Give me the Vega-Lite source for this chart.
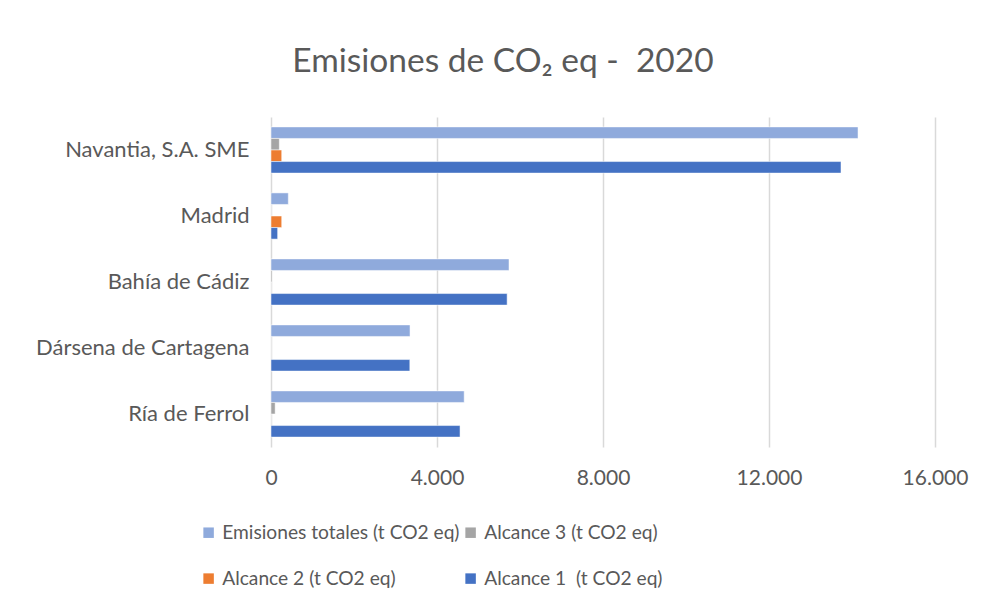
{
  "$schema": "https://vega.github.io/schema/vega-lite/v6.json",
  "width": 664,
  "height": 330,
  "autosize": "none",
  "padding": {"left": 271, "top": 117, "right": 52, "bottom": 163},
  "background": "white",
  "title": {
    "text": "Emisiones de CO₂ eq -\u00a0 2020",
    "anchor": "middle",
    "dx": -100,
    "offset": 38,
    "font": "Lato",
    "fontSize": 33.5,
    "fontWeight": "normal",
    "color": "#595959"
  },
  "data": {
    "values": [
      {"sede": "Navantia, S.A. SME", "serie": "Emisiones totales (t CO2 eq)", "valor": 14145},
      {"sede": "Navantia, S.A. SME", "serie": "Alcance 3 (t CO2 eq)", "valor": 200},
      {"sede": "Navantia, S.A. SME", "serie": "Alcance 2 (t CO2 eq)", "valor": 258},
      {"sede": "Navantia, S.A. SME", "serie": "Alcance 1\u00a0 (t CO2 eq)", "valor": 13735},
      {"sede": "Madrid", "serie": "Emisiones totales (t CO2 eq)", "valor": 417},
      {"sede": "Madrid", "serie": "Alcance 3 (t CO2 eq)", "valor": 0},
      {"sede": "Madrid", "serie": "Alcance 2 (t CO2 eq)", "valor": 258},
      {"sede": "Madrid", "serie": "Alcance 1\u00a0 (t CO2 eq)", "valor": 160},
      {"sede": "Bahía de Cádiz", "serie": "Emisiones totales (t CO2 eq)", "valor": 5735},
      {"sede": "Bahía de Cádiz", "serie": "Alcance 3 (t CO2 eq)", "valor": 25},
      {"sede": "Bahía de Cádiz", "serie": "Alcance 2 (t CO2 eq)", "valor": 0},
      {"sede": "Bahía de Cádiz", "serie": "Alcance 1\u00a0 (t CO2 eq)", "valor": 5690},
      {"sede": "Dársena de Cartagena", "serie": "Emisiones totales (t CO2 eq)", "valor": 3350},
      {"sede": "Dársena de Cartagena", "serie": "Alcance 3 (t CO2 eq)", "valor": 0},
      {"sede": "Dársena de Cartagena", "serie": "Alcance 2 (t CO2 eq)", "valor": 0},
      {"sede": "Dársena de Cartagena", "serie": "Alcance 1\u00a0 (t CO2 eq)", "valor": 3345},
      {"sede": "Ría de Ferrol", "serie": "Emisiones totales (t CO2 eq)", "valor": 4655},
      {"sede": "Ría de Ferrol", "serie": "Alcance 3 (t CO2 eq)", "valor": 100},
      {"sede": "Ría de Ferrol", "serie": "Alcance 2 (t CO2 eq)", "valor": 0},
      {"sede": "Ría de Ferrol", "serie": "Alcance 1\u00a0 (t CO2 eq)", "valor": 4555}
    ]
  },
  "mark": {"type": "bar", "stroke": "white", "strokeWidth": 0.5},
  "encoding": {
    "y": {
      "field": "sede",
      "type": "nominal",
      "sort": ["Navantia, S.A. SME", "Madrid", "Bahía de Cádiz", "Dársena de Cartagena", "Ría de Ferrol"],
      "scale": {"paddingInner": 0.3, "paddingOuter": 0.15},
      "axis": {
        "title": null,
        "ticks": false,
        "domain": false,
        "grid": false,
        "labelPadding": 22,
        "labelLimit": 300,
        "labelFont": "Lato",
        "labelFontSize": 22,
        "labelColor": "#595959"
      }
    },
    "yOffset": {
      "field": "serie",
      "type": "nominal",
      "sort": ["Emisiones totales (t CO2 eq)", "Alcance 3 (t CO2 eq)", "Alcance 2 (t CO2 eq)", "Alcance 1\u00a0 (t CO2 eq)"],
      "scale": {"paddingInner": 0, "paddingOuter": 0}
    },
    "x": {
      "field": "valor",
      "type": "quantitative",
      "scale": {"domain": [0, 16000], "nice": false},
      "axis": {
        "title": null,
        "values": [0, 4000, 8000, 12000, 16000],
        "labelExpr": "replace(format(datum.value, ','), ',', '.')",
        "labelFlush": false,
        "ticks": false,
        "domain": false,
        "grid": true,
        "gridColor": "#D9D9D9",
        "gridWidth": 1.5,
        "labelPadding": 20,
        "labelFont": "Lato",
        "labelFontSize": 21,
        "labelColor": "#595959"
      }
    },
    "color": {
      "field": "serie",
      "type": "nominal",
      "scale": {
        "domain": ["Emisiones totales (t CO2 eq)", "Alcance 2 (t CO2 eq)", "Alcance 3 (t CO2 eq)", "Alcance 1\u00a0 (t CO2 eq)"],
        "range": ["#8FAADC", "#ED7D31", "#A5A5A5", "#4472C4"]
      },
      "legend": {
        "title": null,
        "orient": "none",
        "legendX": -72,
        "legendY": 406,
        "columns": 2,
        "symbolType": "square",
        "symbolSize": 110,
        "symbolStrokeWidth": 0,
        "labelFont": "Lato",
        "labelFontSize": 19.2,
        "labelColor": "#595959",
        "labelOffset": 4,
        "columnPadding": 1,
        "rowPadding": 26,
        "labelLimit": 400
      }
    }
  },
  "config": {"view": {"stroke": null}}
}
